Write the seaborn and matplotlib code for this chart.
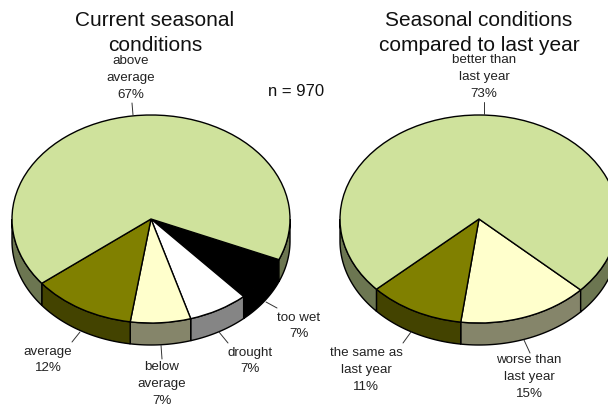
"""Two tilted pie charts of seasonal conditions, saved to out.png."""

import matplotlib
matplotlib.use("Agg")
import matplotlib.pyplot as plt
import numpy as np
import seaborn as sns

# data
current_labels = ["too wet", "drought", "below\naverage", "average", "above\naverage"]
current_values = [7, 7, 7, 12, 67]
compare_labels = ["worse than\nlast year", "the same as\nlast year", "better than\nlast year"]
compare_values = [15, 11, 73]

GREEN, OLIVE, PALE = "#cfe29c", "#808000", "#ffffcc"
current_colors = ["#000000", "#ffffff", PALE, OLIVE, GREEN]
compare_colors = [PALE, OLIVE, GREEN]

# layout, in pixels of the 608x404 picture
W, H = 608, 404
RX, RY, DEPTH = 139, 104, 22
CY = 219

sns.set_theme(style="white")
plt.rcParams["font.family"] = ["Liberation Sans", "DejaVu Sans"]


def _full_axes(fig, **kw):
    ax = fig.add_axes([0, 0, 1, 1], **kw)
    ax.patch.set_alpha(0)
    return ax


def _draw_pie(fig, cx, values, colors, start):
    ax = _full_axes(fig)
    ax.pie(
        values,
        colors=colors,
        startangle=start,
        counterclock=False,
        wedgeprops={"edgecolor": "black", "linewidth": 1.0},
    )
    ax.set_aspect("auto")
    ax.set_xlim(-cx / RX, (W - cx) / RX)
    ax.set_ylim((CY - H) / RY, CY / RY)

    # the rim: front half of each slice, pushed down by the depth
    depth = DEPTH / RY
    hi = start
    for value, color in zip(values, colors):
        lo = hi - 360 * value / sum(values)
        for k in (-1, 0):
            a0, a1 = max(lo, -180 + 360 * k), min(hi, 360 * k)
            if a1 <= a0:
                continue
            t = np.radians(np.linspace(a0, a1, 80))
            x, y = np.cos(t), np.sin(t)
            shade = tuple(0.52 * c for c in matplotlib.colors.to_rgb(color))
            ax.fill(
                np.r_[x, x[::-1]],
                np.r_[y, y[::-1] - depth],
                facecolor=shade,
                edgecolor="black",
                linewidth=1.0,
                zorder=0.5,
            )
        hi = lo
    return ax


def _label(ax, x, y, label, value):
    ax.text(x, y, f"{label}\n{value}%", ha="center", va="center",
            fontsize=9.6, color="#222222", linespacing=1.55)


fig = plt.figure(figsize=(W / 100, H / 100), dpi=100)
_draw_pie(fig, 151, current_values, current_colors, -23)
_draw_pie(fig, 479, compare_values, compare_colors, -43)

# titles, labels and leader lines go on a pixel-scaled overlay
over = _full_axes(fig)
over.set_xlim(0, W)
over.set_ylim(H, 0)
over.axis("off")

for x, title in [(155, "Current seasonal\nconditions"),
                 (479, "Seasonal conditions\ncompared to last year")]:
    over.text(x, 33, title, ha="center", va="center", fontsize=15,
              color="#111111", linespacing=1.45)
over.text(296, 91, "n = 970", ha="center", va="center", fontsize=12, color="#111111")

_label(over, 299, 326, current_labels[0], current_values[0])
_label(over, 250, 361, current_labels[1], current_values[1])
_label(over, 162, 384, current_labels[2], current_values[2])
_label(over, 48, 360, current_labels[3], current_values[3])
_label(over, 131, 78, current_labels[4], current_values[4])
_label(over, 529, 377, compare_labels[0], compare_values[0])
_label(over, 366, 370, compare_labels[1], compare_values[1])
_label(over, 484, 77, compare_labels[2], compare_values[2])

leaders = [
    ((266, 277), (302, 308)), ((219, 228), (332, 343)), ((161, 162), (345, 359)),
    ((80, 72), (332, 342)), ((133, 132), (115, 103)), ((411, 403), (332, 343)),
    ((524, 530), (340, 353)), ((484, 484), (114, 102)),
]
for xs, ys in leaders:
    over.plot(xs, ys, color="#333333", linewidth=0.7)

fig.savefig("out.png", dpi=100)
